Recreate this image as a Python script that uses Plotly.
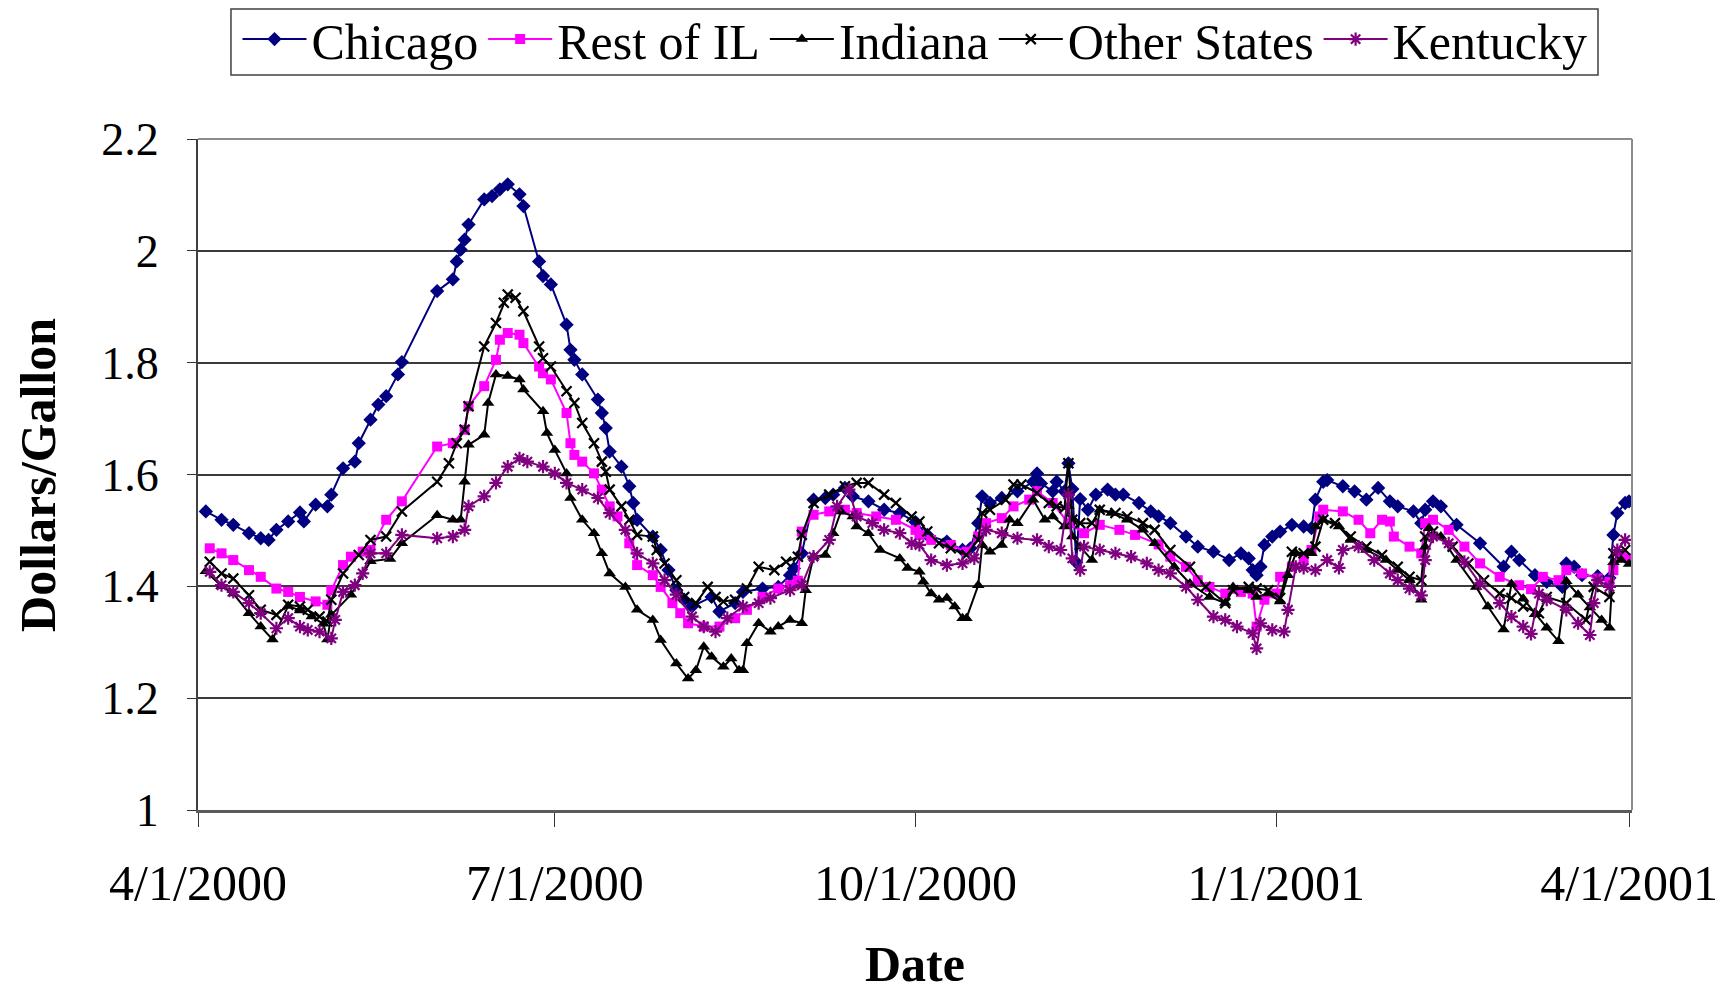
import pandas as pd
import plotly.graph_objects as go

# ---------------- data (day offsets from 4/1/2000, price $/gal) ----------------
start_date = "2000-04-01"

chicago_days = [2, 6, 9, 13, 16, 18, 20, 23, 26, 27, 30, 33, 34, 37, 40, 41, 44, 46, 48, 51, 52, 61, 65, 66, 67, 68, 69,
                73, 75, 77, 79, 82, 83, 87, 88, 90, 94, 95, 96, 98, 102, 103, 104, 105, 108, 110, 111, 112, 116, 118,
                120, 122, 124, 126, 131, 133, 137, 139, 144, 148, 151, 152, 154, 157, 160, 162, 165, 167, 171, 175,
                179, 183, 186, 191, 195, 197, 199, 200, 202, 205, 209, 213, 214, 215, 218, 219, 221, 222, 223, 224,
                225, 227, 229, 232, 234, 236, 240, 243, 245, 248, 252, 255, 259, 263, 266, 268, 269, 270, 271, 272,
                274, 276, 279, 282, 284, 285, 287, 288, 292, 295, 298, 301, 304, 306, 310, 312, 313, 315, 317, 321,
                327, 333, 335, 337, 341, 344, 348, 349, 351, 353, 357, 360, 361, 362, 364, 365]
chicago_vals = [1.534, 1.519, 1.510, 1.495, 1.486, 1.483, 1.501, 1.516, 1.532, 1.516, 1.546, 1.543, 1.564, 1.611,
                1.623, 1.656, 1.698, 1.725, 1.740, 1.779, 1.801, 1.928, 1.949, 1.981, 2.002, 2.020, 2.047, 2.092,
                2.098, 2.110, 2.119, 2.101, 2.080, 1.981, 1.955, 1.940, 1.868, 1.823, 1.805, 1.779, 1.734, 1.710,
                1.683, 1.641, 1.614, 1.579, 1.549, 1.519, 1.489, 1.465, 1.429, 1.393, 1.376, 1.364, 1.381, 1.355,
                1.370, 1.390, 1.396, 1.399, 1.420, 1.432, 1.459, 1.555, 1.558, 1.564, 1.576, 1.561, 1.552, 1.537,
                1.531, 1.515, 1.492, 1.480, 1.465, 1.468, 1.513, 1.561, 1.549, 1.558, 1.570, 1.587, 1.602, 1.584,
                1.570, 1.587, 1.570, 1.620, 1.574, 1.443, 1.556, 1.537, 1.564, 1.573, 1.564, 1.564, 1.549, 1.534,
                1.525, 1.513, 1.489, 1.471, 1.462, 1.447, 1.459, 1.450, 1.429, 1.420, 1.435, 1.474, 1.489, 1.498,
                1.510, 1.507, 1.504, 1.555, 1.587, 1.590, 1.579, 1.570, 1.555, 1.576, 1.552, 1.543, 1.534, 1.513,
                1.537, 1.552, 1.543, 1.510, 1.477, 1.435, 1.462, 1.447, 1.420, 1.408, 1.399, 1.441, 1.435, 1.420,
                1.418, 1.415, 1.492, 1.531, 1.549, 1.552]

rest_il_days = [3, 6, 9, 13, 16, 20, 23, 26, 30, 33, 34, 37, 39, 42, 44, 48, 52, 61, 65, 68, 69, 73, 76, 77, 79, 82,
                83, 87, 88, 90, 94, 95, 96, 98, 101, 103, 105, 107, 110, 112, 116, 118, 121, 123, 125, 129, 133, 137,
                140, 144, 148, 151, 153, 154, 157, 161, 165, 168, 173, 178, 183, 184, 187, 192, 196, 199, 201, 205,
                208, 212, 214, 218, 222, 226, 230, 235, 239, 245, 248, 252, 255, 258, 262, 266, 269, 270, 272, 275,
                276, 279, 282, 284, 286, 287, 292, 296, 299, 302, 304, 305, 309, 312, 313, 315, 319, 323, 327, 332,
                337, 340, 343, 347, 349, 353, 357, 360, 361, 363, 365]
rest_il_vals = [1.468, 1.459, 1.447, 1.429, 1.417, 1.396, 1.390, 1.381, 1.373, 1.367, 1.393, 1.438, 1.453, 1.462,
                1.465, 1.519, 1.552, 1.650, 1.656, 1.680, 1.722, 1.758, 1.805, 1.841, 1.853, 1.850, 1.835, 1.793,
                1.781, 1.770, 1.710, 1.656, 1.635, 1.623, 1.602, 1.573, 1.543, 1.525, 1.477, 1.438, 1.420, 1.399,
                1.370, 1.352, 1.334, 1.328, 1.328, 1.343, 1.358, 1.381, 1.396, 1.402, 1.410, 1.498, 1.528, 1.534,
                1.537, 1.531, 1.525, 1.519, 1.501, 1.492, 1.483, 1.474, 1.462, 1.489, 1.513, 1.522, 1.543, 1.555,
                1.570, 1.549, 1.513, 1.495, 1.510, 1.501, 1.492, 1.475, 1.453, 1.435, 1.411, 1.399, 1.387, 1.390,
                1.387, 1.328, 1.376, 1.387, 1.417, 1.435, 1.447, 1.465, 1.525, 1.537, 1.534, 1.519, 1.495, 1.519,
                1.516, 1.489, 1.471, 1.459, 1.513, 1.519, 1.501, 1.471, 1.441, 1.417, 1.402, 1.395, 1.417, 1.411,
                1.429, 1.423, 1.414, 1.408, 1.429, 1.453, 1.450]

indiana_days = [2, 6, 9, 13, 16, 19, 23, 26, 29, 32, 33, 34, 39, 44, 49, 52, 61, 65, 67, 68, 69, 73, 74, 76, 79, 82,
                83, 88, 89, 91, 94, 95, 98, 101, 103, 105, 109, 112, 116, 118, 122, 125, 127, 129, 131, 134, 136, 138,
                139, 140, 143, 146, 148, 151, 154, 155, 157, 160, 162, 164, 167, 168, 171, 174, 179, 181, 184, 185,
                187, 189, 191, 193, 195, 196, 199, 200, 202, 205, 207, 209, 213, 216, 218, 221, 222, 223, 225, 228,
                230, 233, 237, 241, 244, 249, 253, 258, 262, 264, 268, 270, 273, 276, 278, 280, 284, 285, 287, 291,
                294, 298, 303, 306, 309, 312, 313, 314, 317, 321, 326, 329, 333, 335, 338, 341, 344, 347, 349, 352,
                355, 358, 360, 361, 363, 365]
indiana_vals = [1.427, 1.400, 1.387, 1.352, 1.328, 1.305, 1.365, 1.357, 1.346, 1.333, 1.305, 1.349, 1.385, 1.445,
                1.449, 1.477, 1.527, 1.519, 1.519, 1.587, 1.653, 1.671, 1.728, 1.779, 1.776, 1.770, 1.752, 1.713,
                1.674, 1.644, 1.602, 1.558, 1.519, 1.495, 1.459, 1.423, 1.399, 1.358, 1.340, 1.304, 1.262, 1.235,
                1.250, 1.292, 1.274, 1.256, 1.271, 1.250, 1.250, 1.298, 1.334, 1.319, 1.328, 1.340, 1.334, 1.393,
                1.453, 1.456, 1.495, 1.534, 1.525, 1.507, 1.495, 1.465, 1.450, 1.433, 1.426, 1.408, 1.387, 1.376,
                1.379, 1.364, 1.343, 1.343, 1.402, 1.474, 1.462, 1.474, 1.519, 1.513, 1.555, 1.519, 1.525, 1.507,
                1.543, 1.489, 1.471, 1.447, 1.537, 1.531, 1.519, 1.501, 1.477, 1.435, 1.405, 1.381, 1.370, 1.399,
                1.393, 1.381, 1.387, 1.373, 1.420, 1.459, 1.459, 1.507, 1.519, 1.507, 1.483, 1.465, 1.447, 1.429,
                1.411, 1.376, 1.471, 1.504, 1.489, 1.447, 1.399, 1.364, 1.323, 1.404, 1.378, 1.350, 1.326, 1.302,
                1.409, 1.385, 1.362, 1.340, 1.326, 1.443, 1.447, 1.440]

other_days = [3, 6, 9, 13, 16, 20, 23, 26, 28, 31, 33, 34, 37, 41, 44, 48, 52, 61, 64, 66, 68, 69, 73, 76, 78, 79, 81,
              83, 87, 88, 90, 94, 96, 98, 101, 103, 104, 105, 108, 110, 112, 116, 117, 119, 122, 124, 127, 130, 132,
              134, 137, 140, 143, 147, 150, 153, 154, 157, 161, 165, 168, 171, 175, 178, 182, 184, 186, 189, 192,
              196, 199, 200, 202, 206, 208, 210, 214, 217, 219, 221, 222, 223, 225, 228, 230, 234, 237, 241, 244,
              248, 253, 257, 262, 264, 268, 270, 273, 276, 279, 282, 285, 287, 290, 294, 298, 302, 306, 309, 312,
              313, 315, 320, 324, 328, 332, 335, 338, 342, 344, 349, 354, 356, 360, 361, 364]
other_vals = [1.444, 1.423, 1.414, 1.384, 1.358, 1.349, 1.367, 1.364, 1.358, 1.346, 1.337, 1.376, 1.423, 1.456,
              1.483, 1.489, 1.534, 1.587, 1.620, 1.656, 1.680, 1.722, 1.829, 1.871, 1.907, 1.922, 1.916, 1.892,
              1.829, 1.808, 1.793, 1.749, 1.728, 1.692, 1.656, 1.623, 1.605, 1.573, 1.543, 1.519, 1.492, 1.489,
              1.465, 1.441, 1.411, 1.381, 1.370, 1.399, 1.381, 1.373, 1.376, 1.396, 1.435, 1.429, 1.444, 1.453,
              1.492, 1.549, 1.564, 1.579, 1.585, 1.585, 1.564, 1.549, 1.525, 1.516, 1.498, 1.477, 1.468, 1.456,
              1.483, 1.531, 1.537, 1.555, 1.582, 1.582, 1.567, 1.549, 1.543, 1.540, 1.620, 1.519, 1.513, 1.513,
              1.537, 1.531, 1.525, 1.513, 1.501, 1.465, 1.435, 1.399, 1.370, 1.393, 1.399, 1.396, 1.393, 1.379,
              1.462, 1.459, 1.471, 1.519, 1.513, 1.489, 1.471, 1.456, 1.435, 1.417, 1.411, 1.489, 1.498, 1.471,
              1.441, 1.411, 1.387, 1.379, 1.364, 1.352, 1.381, 1.370, 1.340, 1.399, 1.381, 1.459, 1.465]

kentucky_days = [3, 6, 9, 13, 16, 20, 23, 26, 28, 31, 34, 35, 37, 40, 42, 44, 48, 52, 61, 65, 68, 69, 73, 76, 79, 82,
                 84, 88, 91, 94, 98, 102, 105, 109, 112, 116, 119, 122, 126, 129, 132, 135, 139, 143, 146, 151, 154,
                 157, 161, 163, 166, 168, 172, 175, 179, 182, 184, 187, 191, 195, 198, 201, 205, 209, 214, 217, 220,
                 222, 223, 225, 226, 230, 234, 238, 242, 245, 248, 252, 255, 259, 262, 265, 269, 270, 271, 274, 277,
                 278, 280, 282, 285, 288, 291, 292, 296, 300, 304, 306, 309, 312, 313, 315, 319, 323, 327, 332, 335,
                 338, 340, 342, 344, 349, 352, 355, 356, 357, 360, 362, 364]
kentucky_vals = [1.426, 1.402, 1.390, 1.370, 1.352, 1.325, 1.343, 1.328, 1.322, 1.319, 1.307, 1.340, 1.390, 1.402,
                 1.423, 1.459, 1.459, 1.492, 1.486, 1.489, 1.501, 1.543, 1.561, 1.585, 1.614, 1.629, 1.623, 1.614,
                 1.602, 1.585, 1.573, 1.558, 1.531, 1.501, 1.459, 1.441, 1.411, 1.385, 1.346, 1.328, 1.319, 1.343,
                 1.364, 1.370, 1.379, 1.393, 1.402, 1.453, 1.483, 1.543, 1.573, 1.525, 1.513, 1.501, 1.495, 1.477,
                 1.474, 1.447, 1.438, 1.441, 1.450, 1.501, 1.495, 1.486, 1.483, 1.471, 1.465, 1.564, 1.450, 1.429,
                 1.471, 1.465, 1.459, 1.453, 1.441, 1.429, 1.423, 1.399, 1.376, 1.346, 1.340, 1.328, 1.316, 1.289,
                 1.334, 1.322, 1.319, 1.358, 1.435, 1.433, 1.429, 1.447, 1.433, 1.465, 1.471, 1.447, 1.423, 1.411,
                 1.396, 1.384, 1.447, 1.489, 1.477, 1.444, 1.405, 1.370, 1.346, 1.328, 1.315, 1.387, 1.376, 1.358,
                 1.334, 1.313, 1.370, 1.411, 1.399, 1.465, 1.483]

tick_dates = ["2000-04-01", "2000-07-01", "2000-10-01", "2001-01-01", "2001-04-01"]
tick_labels = ["4/1/2000", "7/1/2000", "10/1/2000", "1/1/2001", "4/1/2001"]
y_ticks = [1.0, 1.2, 1.4, 1.6, 1.8, 2.0, 2.2]
y_labels = ["1", "1.2", "1.4", "1.6", "1.8", "2", "2.2"]


def to_dates(days):
    return pd.to_datetime(start_date) + pd.to_timedelta(days, unit="D")


FONT = "Liberation Serif, Times New Roman, serif"

series = [
    ("Chicago", chicago_days, chicago_vals, "#000080",
     dict(symbol="diamond", size=11, color="#000080", line=dict(width=0))),
    ("Rest of IL", rest_il_days, rest_il_vals, "#FF00FF",
     dict(symbol="square", size=10, color="#FF00FF", line=dict(width=0))),
    ("Indiana", indiana_days, indiana_vals, "#000000",
     dict(symbol="triangle-up", size=11, color="#000000", line=dict(width=0))),
    ("Other States", other_days, other_vals, "#000000",
     dict(symbol="x-thin", size=10, color="#000000", line=dict(width=2.2, color="#000000"))),
    ("Kentucky", kentucky_days, kentucky_vals, "#800080",
     dict(symbol="asterisk", size=11, color="#800080", line=dict(width=2.2, color="#800080"))),
]

fig = go.Figure()
for name, days, vals, col, mk in series:
    fig.add_trace(go.Scatter(
        x=to_dates(days), y=vals, name=name, mode="lines+markers",
        line=dict(color=col, width=2), marker=mk,
    ))

# page body has an 8px default margin, so the figure is 8px smaller each way
fig.update_layout(
    width=1720, height=984,
    paper_bgcolor="white", plot_bgcolor="white",
    margin=dict(l=190, r=96, t=131, b=182, autoexpand=False),
    font=dict(family=FONT, size=50, color="black"),
    showlegend=True,
    legend=dict(
        orientation="h", x=0.5, xanchor="center", y=1.207, yanchor="top",
        borderwidth=0, bgcolor="rgba(0,0,0,0)",
        font=dict(family=FONT, size=50, color="black"),
        itemwidth=64, tracegroupgap=0,
    ),
    xaxis=dict(
        type="date",
        range=["2000-04-01", "2001-04-01 18:00"],
        tickvals=tick_dates, ticktext=tick_labels,
        ticks="outside", ticklen=14, tickcolor="#333333", tickwidth=1,
        ticklabelstandoff=13,
        showgrid=False, zeroline=False,
        showline=True, linecolor="#5a5a5a", linewidth=3,
        tickfont=dict(family=FONT, size=50),
        automargin=False,
    ),
    yaxis=dict(
        range=[1.0, 2.2],
        tickvals=y_ticks, ticktext=y_labels,
        ticks="outside", ticklen=9, tickcolor="#333333", tickwidth=1,
        ticklabelstandoff=19,
        showgrid=True, gridcolor="#3a3a3a", gridwidth=1.5,
        zeroline=False,
        showline=True, linecolor="#404040", linewidth=2,
        tickfont=dict(family=FONT, size=46),
        automargin=False,
    ),
)

# legend frame
fig.add_shape(type="rect", xref="paper", yref="paper", x0=0.023, x1=0.9763, y0=1.0954, y1=1.1937,
              line=dict(color="#404040", width=1.5), fillcolor="rgba(0,0,0,0)", layer="below")

# axis titles
fig.add_annotation(text="<b>Date</b>", xref="paper", yref="paper", x=0.5, y=-0.2295,
                   xanchor="center", yanchor="middle", showarrow=False,
                   font=dict(family=FONT, size=50, color="black"))
fig.add_annotation(text="<b>Dollars/Gallon</b>", xref="paper", yref="paper", x=-0.112, y=0.5,
                   xanchor="center", yanchor="middle", textangle=-90, showarrow=False,
                   font=dict(family=FONT, size=50, color="black"))

# top and right border of the plot area
fig.add_shape(type="line", xref="paper", yref="paper", x0=0, x1=1, y0=1, y1=1,
              line=dict(color="#8c8c8c", width=2))
fig.add_shape(type="line", xref="paper", yref="paper", x0=1, x1=1, y0=0, y1=1,
              line=dict(color="#8c8c8c", width=2))

fig.write_html("out.html")
